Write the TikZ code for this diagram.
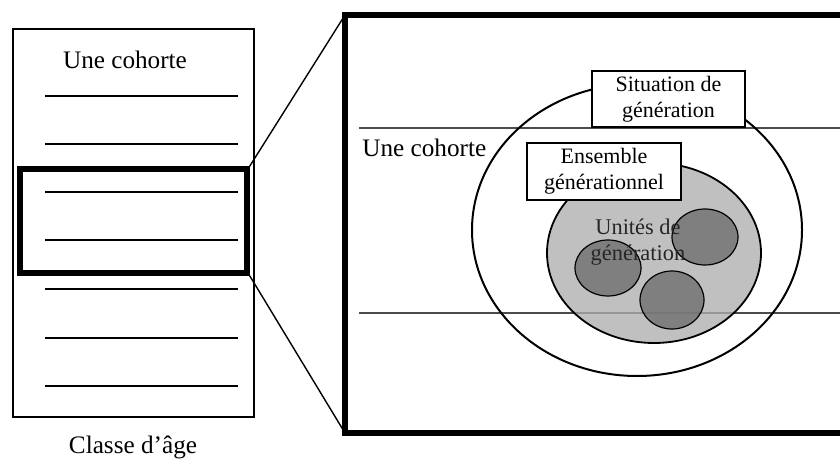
\documentclass[tikz,border=0pt]{standalone}
\usepackage{fontspec}
\setmainfont{Liberation Serif}
\tikzset{
  cadre/.style={draw, line width=0.7pt},
  trait/.style={line width=0.9pt},
  cadregras/.style={draw, line width=2.6pt},
  etiquette/.style={draw, fill=white, line width=0.9pt, align=center,
    inner sep=0pt, font=\fontsize{11}{13}\selectfont},
  grand/.style={font=\fontsize{12.6}{15}\selectfont},
  fond/.style={draw=black, line width=0.9pt, fill opacity=0.77},
}
\begin{document}
\begin{tikzpicture}[x=0.5pt, y=-0.5pt]
  \useasboundingbox (0,0) rectangle (840,460);

  %%%%%%%%%% Classe d'age %%%%%%%%%%
  \draw[cadre] (13,29) rectangle (254,417);
  \node[grand] (cohorteA) at (125,60) {Une cohorte};
  \foreach \y in {96,144,192,240,289,338,386}
    \draw[trait] (45,\y) -- (238,\y);
  \node[cadregras, minimum width=113.5pt, minimum height=52pt] (zoom) at (133.5,221) {};
  \node[grand] (classe) at (133,447) {Classe d'âge};

  %%%%%%%%%% Agrandissement %%%%%%%%%%
  \coordinate (hautG) at (345,15);
  \coordinate (basG) at (345,433);
  \draw[cadregras] (840,15) -- (hautG) -- (basG) -- (840,433);
  \draw[line width=0.7pt] (zoom.north east) -- (hautG);
  \draw[line width=0.7pt] (zoom.south east) -- (basG);

  %%%%%%%%%% Cohorte %%%%%%%%%%
  \coordinate (ligneH) at (359,128);
  \coordinate (ligneB) at (359,313);
  \draw[black!70, line width=0.7pt] (ligneH) -- (840,128);
  \draw[black!70, line width=0.7pt] (ligneB) -- (840,313);
  \node[grand, anchor=west, inner sep=0pt] (cohorteB) at (362,148) {Une cohorte};

  %%%%%%%%%% Ensembles %%%%%%%%%%
  \draw[line width=1pt] (637,230) ellipse [x radius=82.5pt, y radius=73pt];
  \draw[fond, fill={rgb,255:red,173;green,173;blue,173}] (654,253) ellipse [x radius=53.5pt, y radius=45pt];
  \draw[fond, line width=0.6pt, fill={rgb,255:red,109;green,109;blue,109}] (608,268) ellipse [x radius=16.5pt, y radius=14pt];
  \draw[fond, line width=0.6pt, fill={rgb,255:red,109;green,109;blue,109}] (705,237) ellipse [x radius=16.5pt, y radius=14pt];
  \draw[fond, line width=0.6pt, fill={rgb,255:red,109;green,109;blue,109}] (672,300) ellipse [x radius=16pt, y radius=14.5pt];
  \node[align=center, text=black!85, font=\fontsize{11.2}{13}\selectfont] (unites) at (638,242) {Unités de\\génération};

  %%%%%%%%%% Etiquettes %%%%%%%%%%
  \node[etiquette, minimum width=76.5pt, minimum height=28pt] (situation) at (668.5,99) {Situation de\\génération};
  \node[etiquette, minimum width=77pt, minimum height=28.5pt] (ensemble) at (604,171.5) {Ensemble\\générationnel};
\end{tikzpicture}
\end{document}
